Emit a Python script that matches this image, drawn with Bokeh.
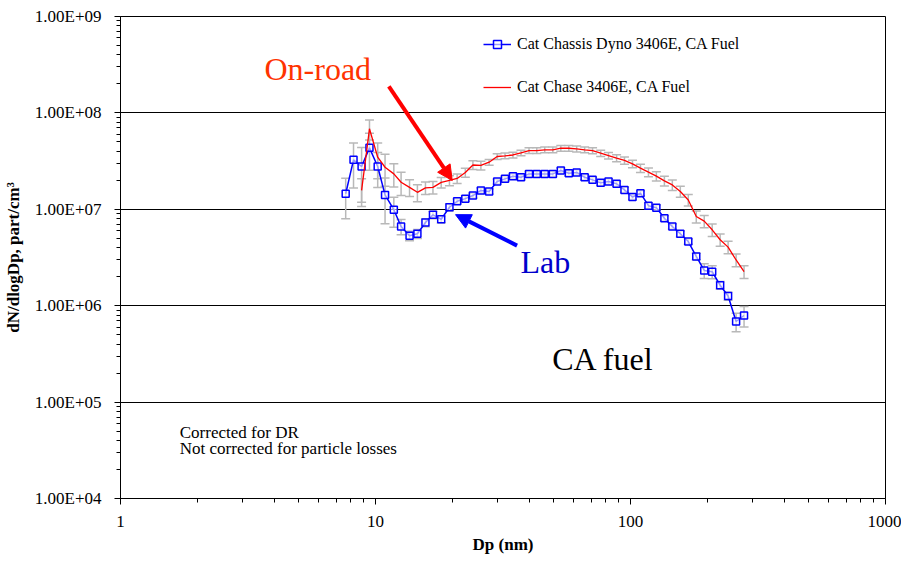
from bokeh.plotting import figure
from bokeh.models import (FixedTicker, CustomJSTickFormatter, Whisker, TeeHead,
                          ColumnDataSource, Arrow, NormalHead, Label, Range1d)
from bokeh.embed import file_html
from bokeh.resources import INLINE

# ---------------- data ----------------
dp_nm = [7.64, 8.20, 8.82, 9.47, 10.2, 10.9, 11.8, 12.6, 13.6, 14.6,
         15.7, 16.8, 18.1, 19.5, 20.9, 22.5, 24.1, 25.9, 27.9, 30.0,
         32.2, 34.6, 37.2, 40.0, 42.9, 46.1, 49.6, 53.3, 57.3, 61.5,
         66.1, 71.0, 76.4, 82.0, 88.2, 94.7, 101.8, 109.4, 117.6, 126.3,
         135.8, 145.9, 156.8, 168.5, 181.1, 194.6, 209.1, 224.7, 241.4, 259.5,
         278.8]

lab_dndlogdp = [1.45e7, 3.26e7, 2.78e7, 4.34e7, 2.78e7, 1.41e7, 9.9e6, 6.63e6, 5.31e6, 5.57e6,
                7.30e6, 8.77e6, 7.89e6, 1.05e7, 1.21e7, 1.29e7, 1.39e7, 1.57e7, 1.53e7, 1.94e7,
                2.07e7, 2.20e7, 2.15e7, 2.33e7, 2.33e7, 2.33e7, 2.33e7, 2.53e7, 2.37e7, 2.41e7,
                2.15e7, 2.02e7, 1.88e7, 1.94e7, 1.84e7, 1.59e7, 1.34e7, 1.47e7, 1.09e7, 1.04e7,
                8.09e6, 6.63e6, 5.57e6, 4.63e6, 3.24e6, 2.32e6, 2.25e6, 1.63e6, 1.26e6, 6.86e5,
                7.91e5]
lab_err = [6.5e6, 1.6e7, 1.6e7, 1.8e7, 1.1e7, 7.0e6, 3.4e6, 1.2e6, 6.0e5, 6.0e5,
           7.0e5, 8.0e5, 7.0e5, 9.0e5, 7.0e5, 8.0e5, 8.0e5, 9.0e5, 9.0e5, 1.1e6,
           1.2e6, 1.3e6, 1.3e6, 1.4e6, 1.4e6, 1.4e6, 1.4e6, 1.5e6, 1.4e6, 1.4e6,
           1.3e6, 1.2e6, 1.1e6, 1.2e6, 1.1e6, 1.0e6, 8.0e5, 9.0e5, 7.0e5, 7.0e5,
           5.0e5, 4.0e5, 4.0e5, 3.0e5, 2.5e5, 4.0e5, 3.5e5, 1.5e5, 1.2e5, 1.5e5,
           1.9e5]

road_dp_nm = dp_nm[2:]
road_dndlogdp = [1.57e7, 6.84e7, 3.47e7, 2.73e7, 2.33e7, 1.91e7, 1.69e7, 1.50e7, 1.67e7, 1.69e7,
                 1.90e7, 1.99e7, 2.09e7, 2.41e7, 2.88e7, 2.85e7, 3.08e7, 3.53e7, 3.59e7, 3.66e7,
                 3.85e7, 4.07e7, 4.07e7, 4.14e7, 4.14e7, 4.30e7, 4.30e7, 4.24e7, 4.14e7, 4.07e7,
                 3.82e7, 3.61e7, 3.39e7, 3.21e7, 2.96e7, 2.67e7, 2.43e7, 2.21e7, 1.97e7, 1.79e7,
                 1.53e7, 1.25e7, 8.42e6, 7.53e6, 6.13e6, 4.83e6, 4.05e6, 2.98e6, 2.26e6]
road_err = [5.0e6, 1.6e7, 1.4e7, 1.0e7, 6.3e6, 5.2e6, 3.3e6, 3.0e6, 2.5e6, 2.5e6,
            2.4e6, 2.4e6, 2.4e6, 2.6e6, 3.0e6, 3.0e6, 2.1e6, 2.4e6, 2.5e6, 2.5e6,
            2.6e6, 2.8e6, 2.8e6, 2.9e6, 2.9e6, 3.0e6, 3.0e6, 3.0e6, 2.9e6, 2.9e6,
            2.8e6, 2.8e6, 2.8e6, 2.8e6, 2.7e6, 2.6e6, 2.5e6, 2.4e6, 2.3e6, 2.2e6,
            2.0e6, 1.7e6, 1.2e6, 1.1e6, 9.0e5, 7.0e5, 6.0e5, 4.5e5, 3.4e5]

lab_name = "Cat Chassis Dyno 3406E, CA Fuel"
road_name = "Cat Chase 3406E, CA Fuel"

x_ticks = [1, 10, 100, 1000]
x_tick_labels = ["1", "10", "100", "1000"]
y_ticks = [1e4, 1e5, 1e6, 1e7, 1e8, 1e9]
y_tick_labels = ["1.00E+04", "1.00E+05", "1.00E+06", "1.00E+07", "1.00E+08", "1.00E+09"]
x_minor = [m * 10 ** k for k in range(0, 3) for m in range(2, 10)]
y_minor = [m * 10 ** k for k in range(4, 9) for m in range(2, 10)]

FONT = "'Liberation Serif', 'Times New Roman', serif"

# ---------------- figure ----------------
p = figure(width=901, height=561, x_axis_type="log", y_axis_type="log",
           x_range=Range1d(1, 1000), y_range=Range1d(1e4, 1e9),
           output_backend="svg", toolbar_location=None,
           min_border_left=120, min_border_right=16, min_border_top=16, min_border_bottom=63)
p.background_fill_color = "white"
p.border_fill_color = "white"
p.outline_line_color = "black"
p.outline_line_width = 1

p.xgrid.grid_line_color = None
p.ygrid.grid_line_color = "black"
p.ygrid.grid_line_width = 1

fmt_js = """
const i = tv.findIndex(t => Math.abs(Math.log10(t) - Math.log10(tick)) < 1e-6);
return i >= 0 ? tl[i] : "";
"""
p.xaxis.ticker = FixedTicker(ticks=x_ticks, minor_ticks=x_minor)
p.yaxis.ticker = FixedTicker(ticks=y_ticks, minor_ticks=y_minor)
p.ygrid.ticker = FixedTicker(ticks=y_ticks)
p.xaxis.formatter = CustomJSTickFormatter(args=dict(tv=x_ticks, tl=x_tick_labels), code=fmt_js)
p.yaxis.formatter = CustomJSTickFormatter(args=dict(tv=y_ticks, tl=y_tick_labels), code=fmt_js)

for ax in (p.xaxis[0], p.yaxis[0]):
    ax.axis_line_color = "black"
    ax.major_tick_line_color = "black"
    ax.minor_tick_line_color = "black"
    ax.major_tick_in = 0
    ax.major_tick_out = 6
    ax.minor_tick_in = 0
    ax.minor_tick_out = 4
    ax.major_label_text_font = FONT
    ax.major_label_text_font_size = "17px"
    ax.major_label_text_color = "black"
    ax.axis_label_text_font = FONT
    ax.axis_label_text_font_size = "17px"
    ax.axis_label_text_font_style = "bold"
    ax.axis_label_text_color = "black"

p.xaxis.axis_label = "Dp (nm)"
p.yaxis.axis_label = "dN/dlogDp, part/cm³"
p.xaxis.major_label_standoff = 11
p.yaxis.major_label_standoff = 13
p.xaxis.axis_label_standoff = 5
p.yaxis.axis_label_standoff = 9

# ---------------- error bars ----------------
lab_src = ColumnDataSource(dict(
    x=dp_nm, y=lab_dndlogdp,
    upper=[v + e for v, e in zip(lab_dndlogdp, lab_err)],
    lower=[v - e for v, e in zip(lab_dndlogdp, lab_err)]))
road_src = ColumnDataSource(dict(
    x=road_dp_nm, y=road_dndlogdp,
    upper=[v + e for v, e in zip(road_dndlogdp, road_err)],
    lower=[v - e for v, e in zip(road_dndlogdp, road_err)]))

EB = "#b8b8b8"
for src in (road_src, lab_src):
    w = Whisker(base="x", upper="upper", lower="lower", source=src, dimension="height",
                line_color=EB, line_width=1.5, level="underlay",
                upper_head=TeeHead(size=9, line_color=EB, line_width=1.5),
                lower_head=TeeHead(size=9, line_color=EB, line_width=1.5))
    p.add_layout(w)

# ---------------- series ----------------
p.line("x", "y", source=lab_src, line_color="#0000ff", line_width=1.5, legend_label=lab_name)
p.scatter("x", "y", source=lab_src, marker="square", size=7, line_color="#0000ff",
          line_width=1.5, fill_color="white", fill_alpha=0.6, legend_label=lab_name)
p.line("x", "y", source=road_src, line_color="#ff0000", line_width=1.3, legend_label=road_name)

lg = p.legend[0]
lg.location = (363, 401)
lg.label_text_font = FONT
lg.label_text_font_size = "16px"
lg.label_text_color = "black"
lg.glyph_width = 28
lg.glyph_height = 20
lg.label_height = 20
lg.label_standoff = 6
lg.spacing = 23
lg.padding = 0
lg.margin = 0
lg.border_line_alpha = 0
lg.background_fill_alpha = 0

# ---------------- annotations ----------------
p.add_layout(Label(x=3.67, y=2.82e8, text="On-road", text_font=FONT, text_font_size="32px",
                   text_color="#ff3300", text_baseline="alphabetic"))
p.add_layout(Label(x=37.0, y=2.85e6, text="Lab", text_font=FONT, text_font_size="32px",
                   text_color="#0000cc", text_baseline="alphabetic"))
p.add_layout(Label(x=49.3, y=2.83e5, text="CA fuel", text_font=FONT, text_font_size="32px",
                   text_color="black", text_baseline="alphabetic"))
p.add_layout(Label(x=1.708, y=4.84e4, text="Corrected for DR", text_font=FONT,
                   text_font_size="17px", text_color="black", text_baseline="alphabetic"))
p.add_layout(Label(x=1.708, y=3.30e4, text="Not corrected for particle losses", text_font=FONT,
                   text_font_size="17px", text_color="black", text_baseline="alphabetic"))

p.add_layout(Arrow(x_start=11.28, y_start=1.88e8, x_end=20.0, y_end=1.99e7,
                   line_color="#ff0000", line_width=4,
                   end=NormalHead(size=15, fill_color="#ff0000", line_color="#ff0000")))
p.add_layout(Arrow(x_start=35.9, y_start=4.2e6, x_end=20.6, y_end=8.8e6,
                   line_color="#0000ff", line_width=4,
                   end=NormalHead(size=15, fill_color="#0000ff", line_color="#0000ff")))

open("out.html", "w").write(file_html(p, INLINE))
